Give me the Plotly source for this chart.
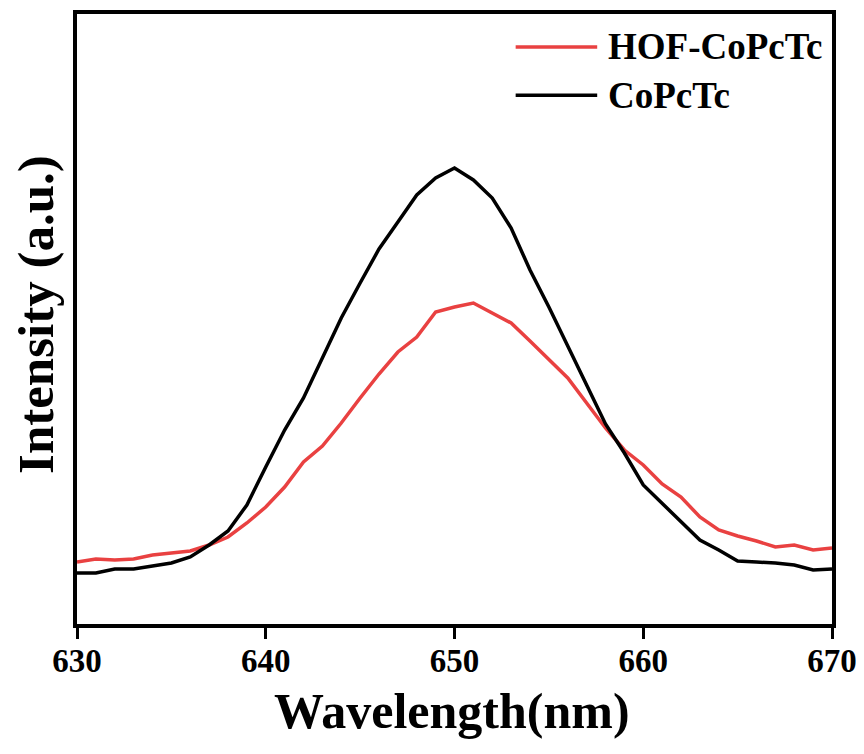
"""Fluorescence emission spectra: HOF-CoPcTc vs CoPcTc."""

import plotly.graph_objects as go

# ── data (intensity in arbitrary units) ──────────────────────────────────────
wavelength = list(range(630, 671))

hof_copctc = [62, 65, 64, 65, 69, 71, 73, 79, 87, 101,
              117, 137, 162, 178, 201, 226, 250, 272, 287, 312,
              317, 321, 311, 301, 283, 264, 246, 221, 196, 174,
              159, 140, 127, 107, 94, 88, 83, 77, 79, 74, 76]

copctc = [51, 51, 55, 55, 58, 61, 67, 79, 93, 119,
          157, 194, 226, 267, 306, 341, 375, 402, 429, 446,
          456, 444, 426, 396, 354, 317, 277, 239, 200, 171,
          139, 121, 102, 84, 74, 63, 62, 61, 59, 54, 55]

x_ticks = [630, 640, 650, 660, 670]
series_names = ["HOF-CoPcTc", "CoPcTc"]

# ── style ─────────────────────────────────────────────────────────────────────
_FONT = "Liberation Serif, Times New Roman, serif"
_RED = "#e94141"
_BLACK = "#000000"

fig = go.Figure()
fig.add_trace(go.Scatter(x=wavelength, y=hof_copctc, mode="lines",
                         name=series_names[0], line=dict(color=_RED, width=3.5)))
fig.add_trace(go.Scatter(x=wavelength, y=copctc, mode="lines",
                         name=series_names[1], line=dict(color=_BLACK, width=3.5)))

# hand-drawn legend so the sample lines can be long like the original
for i, (name, color) in enumerate(zip(series_names, [_RED, _BLACK])):
    yp = 0.946 - i * 0.079
    fig.add_shape(type="line", xref="paper", yref="paper",
                  x0=0.581, x1=0.689, y0=yp, y1=yp,
                  line=dict(color=color, width=3.5))
    fig.add_annotation(xref="paper", yref="paper", x=0.700, y=yp,
                       xanchor="left", yanchor="middle", showarrow=False,
                       text=name,
                       font=dict(family=_FONT, size=37, color="black", weight="bold"))

# axis titles as annotations so they sit where the original has them
fig.add_annotation(xref="paper", yref="paper", x=0.497, y=-0.142,
                   xanchor="center", yanchor="middle", showarrow=False,
                   text="Wavelength(nm)",
                   font=dict(family=_FONT, size=50, color="black", weight="bold"))
fig.add_annotation(xref="paper", yref="paper", x=-0.054, y=0.507,
                   xanchor="center", yanchor="middle", showarrow=False,
                   textangle=-90, text="Intensity (a.u.)", borderpad=0,
                   font=dict(family=_FONT, size=51, color="black", weight="bold"))

fig.update_layout(
    width=864, height=754,
    paper_bgcolor="white", plot_bgcolor="white",
    showlegend=False,
    # page body has an 8px margin, so offsets are trimmed by that
    margin=dict(l=69, r=40, t=6, b=138),
    font=dict(family=_FONT, color="black", weight="bold"),
    xaxis=dict(
        range=[630, 670], tickvals=x_ticks, automargin=False,
        showline=True, linecolor="black", linewidth=3.5, mirror=True,
        ticks="outside", ticklen=11, tickwidth=3, tickcolor="black",
        ticklabelstandoff=-6,
        showgrid=False, zeroline=False,
        tickfont=dict(family=_FONT, size=33, weight="bold"),
    ),
    yaxis=dict(
        range=[0, 610], automargin=False,
        showline=True, linecolor="black", linewidth=3.5, mirror=True,
        showticklabels=False, ticks="",
        showgrid=False, zeroline=False,
    ),
)

fig.write_html("out.html")
